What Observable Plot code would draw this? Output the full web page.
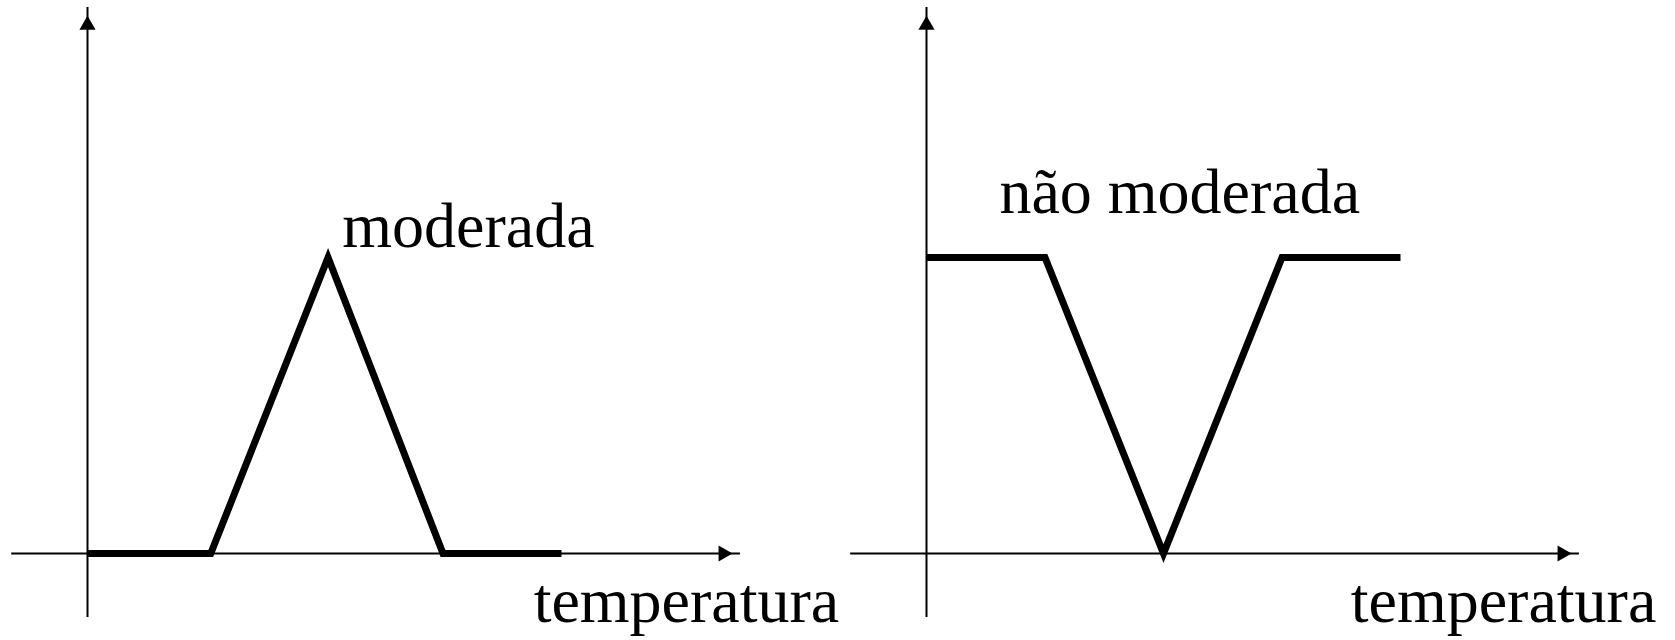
<!DOCTYPE html>
<html>
<head>
<meta charset="utf-8">
<script src="https://cdn.jsdelivr.net/npm/d3@7"></script>
<script src="https://cdn.jsdelivr.net/npm/@observablehq/plot@0.6"></script>
<style>
  html, body { margin: 0; padding: 0; background: #fff; }
  #chart { display: flex; width: 1675px; height: 640px; overflow: hidden; }
</style>
</head>
<body>
<div id="chart"></div>
<script>
// Membership functions over temperature: "moderada" is a triangle,
// "não moderada" is its complement (a V shape).
const temperaturaModerada = [0, 1.04, 2.03, 3, 4];
const moderada = [0, 0, 1, 0, 0];
const temperaturaNaoModerada = [0, 1, 2, 3, 4];
const naoModerada = [1, 1, 0, 1, 1];
const titles = ["moderada", "não moderada"];
const xLabel = "temperatura";

const serif = "'Liberation Serif', 'Times New Roman', Times, serif";

function panel({temps, values, title, titleX, titleY, labelX, width}) {
  const data = temps.map((t, i) => ({t, v: values[i]}));
  return Plot.plot({
    width,
    height: 640,
    margin: 0,
    style: {background: "#fff", color: "#000", fontFamily: serif, overflow: "visible"},
    x: {domain: [0, 4], range: [87, 561], axis: null},
    y: {domain: [0, 1], range: [553, 257], axis: null},
    marks: [
      // horizontal axis with arrowhead
      Plot.ruleY([0], {x1: -0.64, x2: 5.51, stroke: "#000", strokeWidth: 2}),
      Plot.dot([{x: 5.365, y: 0}], {x: "x", y: "y", symbol: "triangle", r: 6, fill: "#000", rotate: 90}),
      // vertical axis with arrowhead
      Plot.ruleX([0], {y1: -0.216, y2: 1.845, stroke: "#000", strokeWidth: 2}),
      Plot.dot([{x: 0, y: 1.785}], {x: "x", y: "y", symbol: "triangle", r: 6, fill: "#000"}),
      // membership curve
      Plot.line(data, {
        x: "t", y: "v",
        stroke: "#000", strokeWidth: 7,
        strokeLinejoin: "miter", strokeMiterlimit: 10, strokeLinecap: "butt"
      }),
      // curve name
      Plot.text([{x: titleX, y: titleY, s: title}], {
        x: "x", y: "y", text: "s",
        textAnchor: "start", lineAnchor: "bottom",
        fontSize: 64, fill: "#000", fontFamily: serif
      }),
      // axis name
      Plot.text([{x: labelX, y: -0.233, s: xLabel}], {
        x: "x", y: "y", text: "s",
        textAnchor: "start", lineAnchor: "bottom",
        fontSize: 64, fill: "#000", fontFamily: serif
      })
    ]
  });
}

const chart = document.getElementById("chart");
chart.append(
  panel({temps: temperaturaModerada, values: moderada, title: titles[0], titleX: 2.15, titleY: 1.034, labelX: 3.765, width: 839}),
  panel({temps: temperaturaNaoModerada, values: naoModerada, title: titles[1], titleX: 0.615, titleY: 1.149, labelX: 3.58, width: 836})
);
</script>
</body>
</html>
